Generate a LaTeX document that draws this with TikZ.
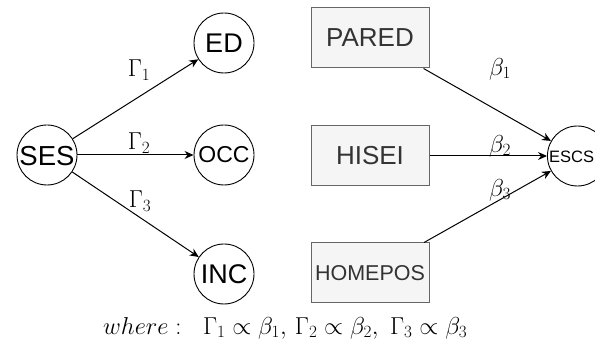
\RequirePackage{fix-cm}
\documentclass[tikz,border=0pt]{standalone}
\usepackage{fontspec}
\setsansfont{Liberation Sans}
\usetikzlibrary{arrows.meta}
\definecolor{boxfill}{HTML}{F5F5F5}
\definecolor{boxline}{HTML}{666666}
\definecolor{boxtext}{HTML}{333333}
\tikzset{
  var/.style={circle, draw=black, line width=0.9pt, minimum size=60pt, inner sep=0pt, font=\sffamily},
  obs/.style={rectangle, draw=boxline, fill=boxfill, line width=1pt, minimum width=118pt, minimum height=60pt, inner sep=0pt, text=boxtext, font=\sffamily},
  arr/.style={draw=black, line width=1pt, -{Stealth[length=9pt,width=8pt]}},
  coef/.style={inner sep=0pt, font=\fontsize{24.5}{28}\selectfont}
}
\begin{document}
\begin{tikzpicture}[x=1pt,y=-1pt]
\useasboundingbox (0,0) rectangle (595,347);
\node[var] (ses) at (47,155) {};
\node[font=\sffamily\fontsize{27.5}{30}\selectfont, inner sep=0pt] (sestext) at (47,156) {SES};
\node[var, font=\sffamily\fontsize{27}{30}\selectfont] (ed) at (224,43) {ED};
\node[var, font=\sffamily\fontsize{23}{26}\selectfont] (occ) at (224,155) {OCC};
\node[var, font=\sffamily\fontsize{27}{30}\selectfont] (inc) at (224,274) {INC};
\node[obs, font=\sffamily\fontsize{26}{29}\selectfont] (pared) at (370,38) {PARED};
\node[obs, font=\sffamily\fontsize{26}{29}\selectfont] (hisei) at (370,156) {HISEI};
\node[obs, font=\sffamily\fontsize{21.5}{24}\selectfont] (homepos) at (370,273) {HOMEPOS};
\node[var, anchor=west] (escs) at (547,156) {};
\node[font=\sffamily\fontsize{16.5}{20}\selectfont, anchor=west, inner sep=0pt] (escstext) at (549,157) {ESCS};
\draw[arr] (ses) -- (ed);
\draw[arr] (ses) -- (occ);
\draw[arr] (ses) -- (inc);
\draw[arr] (pared) -- (escs);
\draw[arr] (hisei) -- (escs);
\draw[arr] (homepos) -- (escs);
\node[coef] (g1) at (139,70) {$\Gamma_1$};
\node[coef] (g2) at (139,143) {$\Gamma_2$};
\node[coef] (g3) at (140,201) {$\Gamma_3$};
\node[coef] (b1) at (500,69) {$\beta_1$};
\node[coef] (b2) at (500,146) {$\beta_2$};
\node[coef] (b3) at (500,190) {$\beta_3$};
\node[coef, anchor=west] (note) at (103,328) {$where:\ \ \Gamma_1\propto\beta_1,\,\Gamma_2\propto\beta_2,\ \Gamma_3\propto\beta_3$};
\end{tikzpicture}
\end{document}
